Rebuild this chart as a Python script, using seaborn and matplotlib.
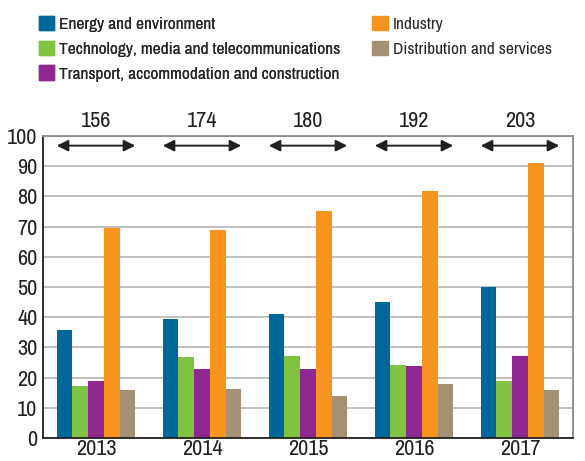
import pandas as pd
import matplotlib.pyplot as plt
import seaborn as sns

years = ['2013', '2014', '2015', '2016', '2017']
totals = [156, 174, 180, 192, 203]

sectors = ['Energy and environment', 'Technology, media and telecommunications',
           'Transport, accommodation and construction', 'Industry',
           'Distribution and services']
energy = [35.8, 39.4, 41.1, 45.0, 50.1]
tech = [17.3, 26.8, 27.2, 24.2, 18.9]
transport = [18.9, 22.9, 22.9, 23.8, 27.2]
industry = [69.6, 69.0, 75.3, 81.8, 91.1]
distrib = [15.9, 16.3, 13.9, 17.9, 15.9]

colors = ['#00679b', '#80c241', '#8e278f', '#f7941d', '#a39173']

rows = []
for name, vals in zip(sectors, [energy, tech, transport, industry, distrib]):
    for y, v in zip(years, vals):
        rows.append({'year': y, 'sector': name, 'value': v})
df = pd.DataFrame(rows)

sns.set_style('white')
plt.rcParams['font.family'] = ['Archivo Narrow', 'DejaVu Sans']

fig = plt.figure(figsize=(5.85, 4.61), dpi=100)
ax = fig.add_axes([0.0735, 0.05, 0.906, 0.655])

sns.barplot(data=df, x='year', y='value', hue='sector', palette=colors,
            width=0.74, gap=0, saturation=1, linewidth=0, ax=ax, legend=False)

ax.set_ylim(0, 100)
ax.set_xlim(-0.5, 4.5)
ax.set_yticks(range(0, 101, 10))
ax.yaxis.grid(True, color='#b5b5b5', linewidth=1.2)
ax.set_axisbelow(True)
ax.set_xlabel('')
ax.set_ylabel('')
ax.tick_params(axis='both', labelsize=16, length=0, pad=4, colors='#231f20')
ax.tick_params(axis='x', pad=1)
for s in ['left', 'bottom']:
    ax.spines[s].set_color('#231f20')
    ax.spines[s].set_linewidth(1.3)
for s in ['top', 'right']:
    ax.spines[s].set_color('#8a8a8a')
    ax.spines[s].set_linewidth(1.3)

# totals with arrows above each group
for i, t in enumerate(totals):
    ax.annotate('', xy=(i - 0.37, 96.8), xytext=(i + 0.37, 96.8),
                arrowprops=dict(arrowstyle='<|-|>', color='#231f20', lw=1.4,
                                mutation_scale=17, shrinkA=0, shrinkB=0))
    ax.text(i, 1.018, str(t), transform=ax.get_xaxis_transform(),
            ha='center', va='bottom', fontsize=16, color='#231f20')

# legend in two columns at the top
handles = [plt.Rectangle((0, 0), 1, 1, color=c) for c in colors]
kw = dict(loc='upper left', frameon=False, fontsize=12.5,
          handlelength=0.9, handleheight=0.9, handletextpad=0.3,
          labelspacing=0.5, borderaxespad=0, borderpad=0)
leg1 = fig.legend(handles[:3], sectors[:3], bbox_to_anchor=(0.066, 0.966), **kw)
leg2 = fig.legend(handles[3:], sectors[3:], bbox_to_anchor=(0.636, 0.966), **kw)
fig.add_artist(leg1)

fig.savefig('out.png', dpi=100)
